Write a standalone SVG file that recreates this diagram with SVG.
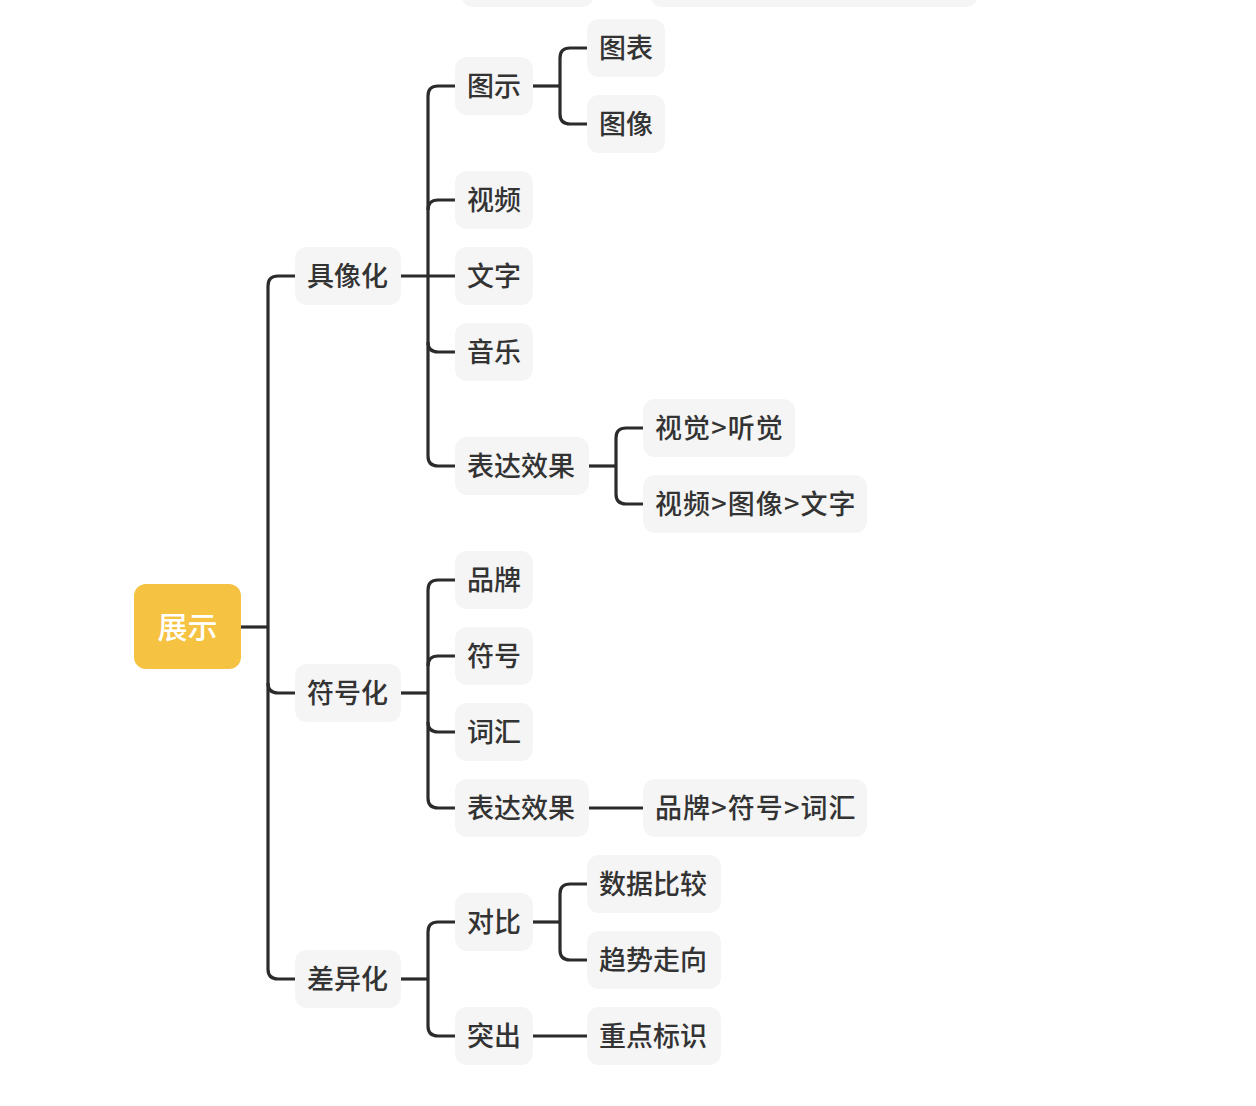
<svg xmlns="http://www.w3.org/2000/svg" width="1256" height="1106" viewBox="0 0 1256 1106">
<style>
.n rect{fill:#f5f5f5;}
.n text{font-family:"Noto Sans CJK SC","Noto Sans",sans-serif;font-size:27px;font-weight:500;fill:#333333;dominant-baseline:central;}
.n text.gt{letter-spacing:1.1px;}
.root rect{fill:#f5c242;}
.root text{font-family:"Noto Sans CJK SC","Noto Sans",sans-serif;font-size:30px;fill:#ffffff;font-weight:500;dominant-baseline:central;text-anchor:middle;}
.c path{fill:none;stroke:#2b2b2b;stroke-width:3.2;stroke-linecap:butt;}
</style>
<rect width="1256" height="1106" fill="#ffffff"/>
<g class="c" id="connectors">
<path d="M241 627H268"/>
<path d="M295 276H278Q268 276 268 286V969Q268 979 278 979H295"/>
<path d="M268 683Q268 693 278 693H295"/>
<path d="M401 276H455"/>
<path d="M455 86H438Q428 86 428 96V456Q428 466 438 466H455"/>
<path d="M428 210Q428 200 438 200H455"/>
<path d="M428 342Q428 352 438 352H455"/>
<path d="M533 86H560"/>
<path d="M587 48H570Q560 48 560 58V114Q560 124 570 124H587"/>
<path d="M589 466H616"/>
<path d="M643 428H626Q616 428 616 438V494Q616 504 626 504H643"/>
<path d="M401 693H428"/>
<path d="M455 580H438Q428 580 428 590V798Q428 808 438 808H455"/>
<path d="M428 666Q428 656 438 656H455"/>
<path d="M428 722Q428 732 438 732H455"/>
<path d="M589 808H643"/>
<path d="M401 979H428"/>
<path d="M455 922H438Q428 922 428 932V1026Q428 1036 438 1036H455"/>
<path d="M533 922H560"/>
<path d="M587 884H570Q560 884 560 894V950Q560 960 570 960H587"/>
<path d="M533 1036H587"/>
</g>
<g class="n" id="partial1"><rect x="461" y="-51" width="133" height="58" rx="12"/></g>
<g class="n" id="partial2"><rect x="650" y="-51" width="328" height="58" rx="12"/></g>
<g class="root" id="n-root"><rect x="134" y="584" width="107" height="85" rx="12"/><text x="187.5" y="625">展示</text></g>
<g class="n" id="n-jxh"><rect x="295" y="247" width="106" height="58" rx="12"/><text x="307" y="274">具像化</text></g>
<g class="n" id="n-fhh"><rect x="295" y="664" width="106" height="58" rx="12"/><text x="307" y="691">符号化</text></g>
<g class="n" id="n-cyh"><rect x="295" y="950" width="106" height="58" rx="12"/><text x="307" y="977">差异化</text></g>
<g class="n" id="n-ts"><rect x="455" y="57" width="78" height="58" rx="12"/><text x="467" y="84">图示</text></g>
<g class="n" id="n-sp"><rect x="455" y="171" width="78" height="58" rx="12"/><text x="467" y="198">视频</text></g>
<g class="n" id="n-wz"><rect x="455" y="247" width="78" height="58" rx="12"/><text x="467" y="274">文字</text></g>
<g class="n" id="n-yy"><rect x="455" y="323" width="78" height="58" rx="12"/><text x="467" y="350">音乐</text></g>
<g class="n" id="n-bdxg1"><rect x="455" y="437" width="134" height="58" rx="12"/><text x="467" y="464">表达效果</text></g>
<g class="n" id="n-tb"><rect x="587" y="19" width="78" height="58" rx="12"/><text x="599" y="46">图表</text></g>
<g class="n" id="n-tx"><rect x="587" y="95" width="78" height="58" rx="12"/><text x="599" y="122">图像</text></g>
<g class="n" id="n-sjtj"><rect x="643" y="399" width="152" height="58" rx="12"/><text class="gt" x="655" y="426">视觉&gt;听觉</text></g>
<g class="n" id="n-sptxwz"><rect x="643" y="475" width="224" height="58" rx="12"/><text class="gt" x="655" y="502">视频&gt;图像&gt;文字</text></g>
<g class="n" id="n-pp"><rect x="455" y="551" width="78" height="58" rx="12"/><text x="467" y="578">品牌</text></g>
<g class="n" id="n-fh"><rect x="455" y="627" width="78" height="58" rx="12"/><text x="467" y="654">符号</text></g>
<g class="n" id="n-ch"><rect x="455" y="703" width="78" height="58" rx="12"/><text x="467" y="730">词汇</text></g>
<g class="n" id="n-bdxg2"><rect x="455" y="779" width="134" height="58" rx="12"/><text x="467" y="806">表达效果</text></g>
<g class="n" id="n-ppfhch"><rect x="643" y="779" width="224" height="58" rx="12"/><text class="gt" x="655" y="806">品牌&gt;符号&gt;词汇</text></g>
<g class="n" id="n-db"><rect x="455" y="893" width="78" height="58" rx="12"/><text x="467" y="920">对比</text></g>
<g class="n" id="n-tc"><rect x="455" y="1007" width="78" height="58" rx="12"/><text x="467" y="1034">突出</text></g>
<g class="n" id="n-sjbj"><rect x="587" y="855" width="134" height="58" rx="12"/><text x="599" y="882">数据比较</text></g>
<g class="n" id="n-qszx"><rect x="587" y="931" width="134" height="58" rx="12"/><text x="599" y="958">趋势走向</text></g>
<g class="n" id="n-zdbs"><rect x="587" y="1007" width="134" height="58" rx="12"/><text x="599" y="1034">重点标识</text></g>
</svg>
